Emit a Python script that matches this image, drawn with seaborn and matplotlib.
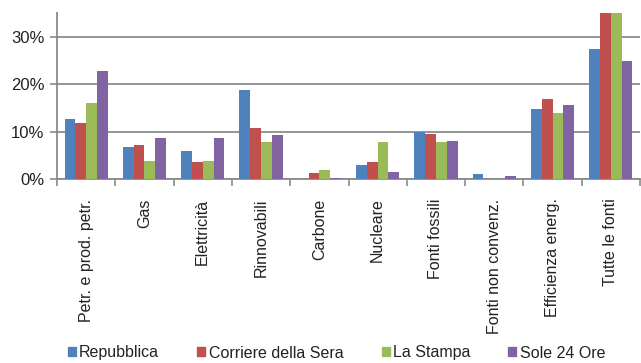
import numpy as np
import pandas as pd
import matplotlib
matplotlib.use('Agg')
import matplotlib.pyplot as plt
import seaborn as sns

# dati (percentuali)
categorie = ['Petr. e prod. petr.', 'Gas', 'Elettricità', 'Rinnovabili', 'Carbone',
             'Nucleare', 'Fonti fossili', 'Fonti non convenz.', 'Efficienza energ.', 'Tutte le fonti']
testate = ['Repubblica', 'Corriere della Sera', 'La Stampa', 'Sole 24 Ore']
repubblica = [12.6, 6.8, 5.8, 18.7, 0.0, 3.0, 10.0, 1.0, 14.8, 27.5]
corriere = [11.9, 7.2, 3.5, 10.8, 1.2, 3.5, 9.5, 0.0, 16.9, 35.0]
stampa = [16.0, 3.9, 3.9, 7.9, 1.9, 7.9, 7.9, 0.0, 14.0, 35.0]
sole = [22.8, 8.6, 8.6, 9.3, 0.2, 1.4, 8.1, 0.7, 15.7, 24.8]
colori = ['#4F81BD', '#C0504D', '#9BBB59', '#8064A2']

df = pd.DataFrame({
    'Categoria': categorie * 4,
    'Testata': np.repeat(testate, len(categorie)),
    'Valore': repubblica + corriere + stampa + sole,
})

sns.set_style('white')
plt.rcParams['font.family'] = ['Liberation Sans', 'DejaVu Sans']

fig = plt.figure(figsize=(6.41, 3.63), dpi=100)
ax = fig.add_axes([57 / 641, 1 - 179 / 363, 583 / 641, 166 / 363])

sns.barplot(data=df, x='Categoria', y='Valore', hue='Testata', palette=colori,
            saturation=1, width=0.74, gap=0, linewidth=0, ax=ax, legend=False, zorder=3)

ax.set_ylim(0, 35)
ax.set_xlim(-0.5, len(categorie) - 0.5)
ax.set_yticks([0, 10, 20, 30])
ax.set_yticklabels(['0%', '10%', '20%', '30%'], fontsize=12, color='#222222')
ax.set_xticks(range(len(categorie)))
ax.set_xticklabels(categorie, rotation=90, fontsize=11.5, color='#222222')
ax.set_xticks(np.arange(-0.5, len(categorie), 1), minor=True)
ax.tick_params(axis='x', which='major', bottom=False, length=0, pad=14)
ax.tick_params(axis='x', which='minor', bottom=True, direction='out', length=5,
               color='#8a8a8a', width=1.2)
ax.tick_params(axis='y', left=True, direction='out', length=5, color='#8a8a8a', width=1.2, pad=4)
ax.set_xlabel('')
ax.set_ylabel('')

ax.yaxis.grid(True, color='#8c8c8c', linewidth=1.3, zorder=0)
for s in ['top', 'right']:
    ax.spines[s].set_visible(False)
for s in ['left', 'bottom']:
    ax.spines[s].set_color('#8a8a8a')
    ax.spines[s].set_linewidth(1.3)

handles = [plt.Rectangle((0, 0), 1, 1, color=c) for c in colori]
fig.legend(handles, testate, loc='center', bbox_to_anchor=(0.525, 1 - 353 / 363), ncol=4,
           frameon=False, fontsize=11.5, handlelength=0.5, handleheight=0.5,
           handletextpad=0.2, columnspacing=2.4, labelcolor='#222222')

fig.savefig('out.png', dpi=100)
